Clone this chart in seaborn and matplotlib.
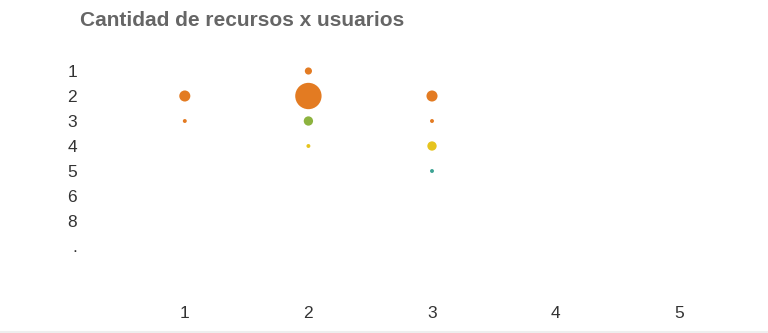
import matplotlib
matplotlib.use("Agg")
import matplotlib.pyplot as plt
import seaborn as sns
import pandas as pd

# Category labels
usuarios = ["1", "2", "3", "4", "5"]
recursos = ["1", "2", "3", "4", "5", "6", "8", "."]

# Bubble data: user column, resource row, count, colour group
punto_usuario = ["1", "1", "2", "2", "2", "2", "3", "3", "3", "3"]
punto_recurso = ["2", "3", "1", "2", "3", "4", "2", "3", "4", "5"]
cantidad = [4, 1, 2, 20, 3, 1, 4, 1, 3, 1]
grupo = ["naranja", "naranja", "naranja", "naranja", "verde", "amarillo",
         "naranja", "naranja", "amarillo", "turquesa"]

colores = {"naranja": "#E37B22", "verde": "#8DB33F",
           "amarillo": "#E6C41E", "turquesa": "#3DA394"}

df = pd.DataFrame({
    "x": [usuarios.index(u) + 1 for u in punto_usuario],
    "y": [recursos.index(r) for r in punto_recurso],
    "cantidad": cantidad,
    "grupo": grupo,
})

sns.set_theme(style="white")
plt.rcParams["font.family"] = ["Liberation Sans", "DejaVu Sans"]

fig = plt.figure(figsize=(7.68, 3.33), dpi=100)
ax = fig.add_axes([123 / 768, 1 - 295 / 333, (741 - 123) / 768, (295 - 50) / 333])

sns.scatterplot(data=df, x="x", y="y", size="cantidad", sizes=(8, 360),
                hue="grupo", palette=colores, edgecolor="none",
                legend=False, ax=ax, zorder=3)

ax.set_xlim(0.5, 5.5)
ax.set_ylim(8.96, -0.84)
ax.set_xticks(range(1, len(usuarios) + 1))
ax.set_xticklabels(usuarios)
ax.set_yticks(range(len(recursos)))
ax.set_yticklabels(recursos)
ax.tick_params(axis="x", length=0, pad=8, labelsize=12.5, labelcolor="#333333")
ax.tick_params(axis="y", length=0, pad=33, labelsize=12.5, labelcolor="#333333")
ax.set_xlabel("")
ax.set_ylabel("")
for s in ax.spines.values():
    s.set_visible(False)

fig.text(80 / 768, 1 - 20 / 333, "Cantidad de recursos x usuarios",
         fontsize=15, fontweight="bold", color="#666666", va="center", ha="left")

# light rule along the bottom edge
fig.add_artist(plt.Line2D([0, 1], [1.5 / 333, 1.5 / 333], color="#eeeeee", lw=1.5))

fig.savefig("out.png", dpi=100)
